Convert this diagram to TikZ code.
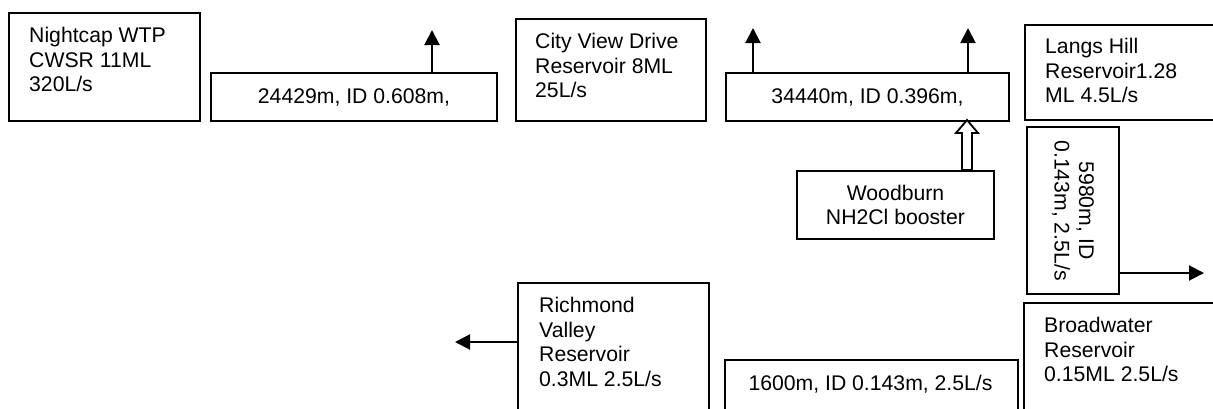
\documentclass[tikz,border=0pt]{standalone}
\usepackage{fontspec}
\setmainfont{Liberation Sans}
\usetikzlibrary{arrows.meta}
\tikzset{
  box/.style={draw, line width=2pt, inner sep=0pt, anchor=north west, font=\fontsize{21.2}{24.5}\selectfont, align=center},
  lbl/.style={font=\fontsize{21.2}{24.5}\selectfont, inner sep=0pt, align=left, anchor=north west},
  arr/.style={line width=2pt, -{Triangle[length=15pt,width=15pt]}},
  hollow/.style={line width=1.8pt, fill=white, line join=miter}
}
\begin{document}
\begin{tikzpicture}[x=1pt,y=-1pt]
\clip (0,0) rectangle (1213,408);
% boxes
\node[box, minimum width=191pt, minimum height=108pt] (nightcap) at (8,12) {};
\node[lbl] (nightcapT) at (29,27) {Nightcap WTP\\CWSR 11ML\\320L/s};
\node[box, minimum width=286pt, minimum height=48pt] (pipeA) at (210,72) {24429m, ID 0.608m,};
\node[box, minimum width=190pt, minimum height=102pt] (cityview) at (515,18) {};
\node[lbl] (cityviewT) at (535,33) {City View Drive\\Reservoir 8ML\\25L/s};
\node[box, minimum width=283pt, minimum height=48pt] (pipeB) at (725,72) {34440m, ID 0.396m,};
\node[box, minimum width=189pt, minimum height=95pt] (langs) at (1024,24) {};
\node[lbl] (langsT) at (1045,38) {Langs Hill\\Reservoir1.28\\ML 4.5L/s};
\node[box, minimum width=197pt, minimum height=68pt] (woodburn) at (796,170) {Woodburn\\NH2Cl booster};
\node[box, minimum width=92pt, minimum height=167pt] (vpipe) at (1026,126) {};
\node[font=\fontsize{21.2}{24.5}\selectfont, align=center, rotate=-90, inner sep=0pt] (vpipeT) at (vpipe.center) {5980m, ID\\0.143m, 2.5L/s};
\node[box, minimum width=191pt, minimum height=140pt] (richmond) at (517,282) {};
\node[lbl] (richmondT) at (539,297) {Richmond\\Valley\\Reservoir\\0.3ML 2.5L/s};
\node[box, minimum width=293pt, minimum height=60pt] (pipeC) at (724,359) {};
\node[font=\fontsize{21.2}{24.5}\selectfont, inner sep=0pt, anchor=base] (pipeCT) at (870.5,390) {1600m, ID 0.143m, 2.5L/s};
\node[box, minimum width=190pt, minimum height=120pt] (broadwater) at (1023,302) {};
\node[lbl] (broadwaterT) at (1044,317) {Broadwater\\Reservoir\\0.15ML 2.5L/s};
% arrows
\coordinate (a1) at (432,30);
\coordinate (a2) at (753,28);
\coordinate (a3) at (968,28);
\coordinate (a4) at (1204,273);
\coordinate (a5) at (455,342);
\draw[arr] (pipeA.north -| a1) -- (a1);
\draw[arr] (pipeB.north -| a2) -- (a2);
\draw[arr] (pipeB.north -| a3) -- (a3);
\draw[arr] (vpipe.east |- a4) -- (a4);
\draw[arr] (richmond.west |- a5) -- (a5);
% hollow booster arrow
\coordinate (bx) at (967,0);
\draw[hollow] (woodburn.north -| bx) ++(-5,0) -- ++(0,-37) -- ++(-6,0) -- ++(11,-13) -- ++(11,13) -- ++(-6,0) -- ++(0,37) -- cycle;
\end{tikzpicture}
\end{document}
